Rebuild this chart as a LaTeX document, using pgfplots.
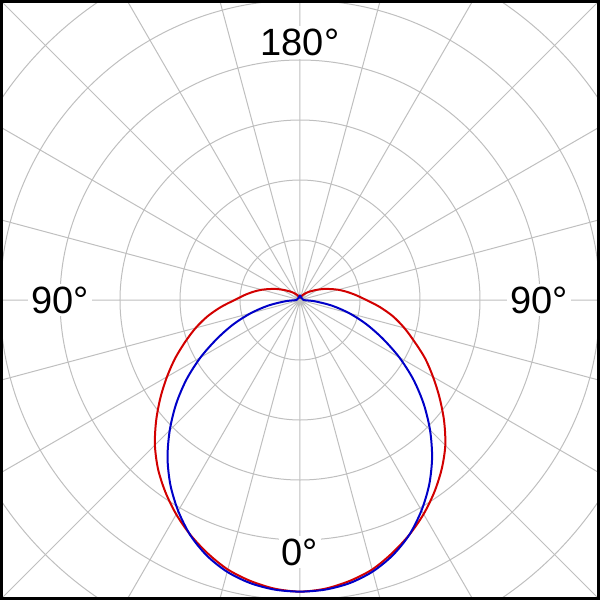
\documentclass[border=0pt]{standalone}
\usepackage{fontspec}
\setmainfont{Liberation Sans}
\usepackage{pgfplots}
\pgfplotsset{compat=1.18}
\usepgfplotslibrary{polar}
\usepackage{pgfplotstable}

\definecolor{redline}{RGB}{210,0,0}
\definecolor{blueline}{RGB}{0,0,200}

% a = angle of the pattern (0 = bottom), r = relative level
\pgfplotstableread{
a r
-180 0.006
-170 0.008
-160 0.012
-150 0.020
-140 0.030
-130 0.045
-125 0.055
-120 0.069
-115 0.087
-110 0.107
-105 0.132
-100 0.158
-95 0.186
-90 0.218
-85 0.264
-80 0.313
-75 0.360
-70 0.407
-65 0.459
-60 0.512
-55 0.568
-50 0.626
-45 0.684
-40 0.736
-35 0.782
-30 0.825
-25 0.864
-20 0.899
-15 0.930
-10 0.951
-5 0.966
0 0.972
5 0.966
10 0.951
15 0.930
20 0.898
25 0.863
30 0.824
35 0.781
40 0.735
45 0.685
50 0.627
55 0.568
60 0.512
65 0.460
70 0.406
75 0.360
80 0.315
85 0.267
90 0.221
95 0.187
100 0.158
105 0.132
110 0.107
115 0.087
120 0.069
125 0.055
130 0.045
140 0.030
150 0.020
160 0.012
170 0.008
180 0.006
}\redpattern

\pgfplotstableread{
a r
-180 0.017
-135 0.008
-90 0.012
-85 0.050
-80 0.108
-75 0.170
-70 0.236
-65 0.305
-60 0.383
-55 0.462
-50 0.539
-45 0.614
-40 0.687
-35 0.753
-30 0.812
-25 0.865
-20 0.907
-15 0.938
-10 0.958
-5 0.969
0 0.972
5 0.969
10 0.958
15 0.937
20 0.905
25 0.863
30 0.810
35 0.751
40 0.685
45 0.613
50 0.538
55 0.461
60 0.382
65 0.304
70 0.235
75 0.170
80 0.108
85 0.050
90 0.012
135 0.008
180 0.017
}\bluepattern

\begin{document}
\begin{tikzpicture}
\useasboundingbox (0,0) rectangle (600pt,600pt);
\begin{scope}
\clip (0,0) rectangle (600pt,600pt);
\begin{polaraxis}[
  at={(300pt,300pt)}, anchor=center,
  scale only axis,
  width=852pt, height=852pt,
  ymin=0, ymax=1.42,
  xtick={0,15,...,345},
  ytick={0.2,0.4,0.6,0.8,1.0,1.2,1.4},
  xticklabels={}, yticklabels={},
  major tick length=0pt,
  grid=major,
  major grid style={draw=gray!50, line width=1pt},
  axis line style={draw=none},
]
\addplot[redline, line width=2pt, smooth] table[x expr=\thisrow{a}-90, y=r] {\redpattern};
\addplot[blueline, line width=2pt, smooth] table[x expr=\thisrow{a}-90, y=r] {\bluepattern};
\node[fill=white, inner sep=3pt, font=\fontsize{38}{40}\selectfont] at (axis cs:90,0.857) {180°};
\node[fill=white, inner sep=3pt, font=\fontsize{38}{40}\selectfont] at (axis cs:180,0.80) {90°};
\node[fill=white, inner sep=3pt, font=\fontsize{38}{40}\selectfont] at (axis cs:0,0.797) {90°};
\node[fill=white, inner sep=3pt, font=\fontsize{38}{40}\selectfont] at (axis cs:270,0.84) {0°};
\end{polaraxis}
\end{scope}
\draw[line width=3pt] (1.5pt,1.5pt) rectangle (598.5pt,598.5pt);
\end{tikzpicture}
\end{document}
